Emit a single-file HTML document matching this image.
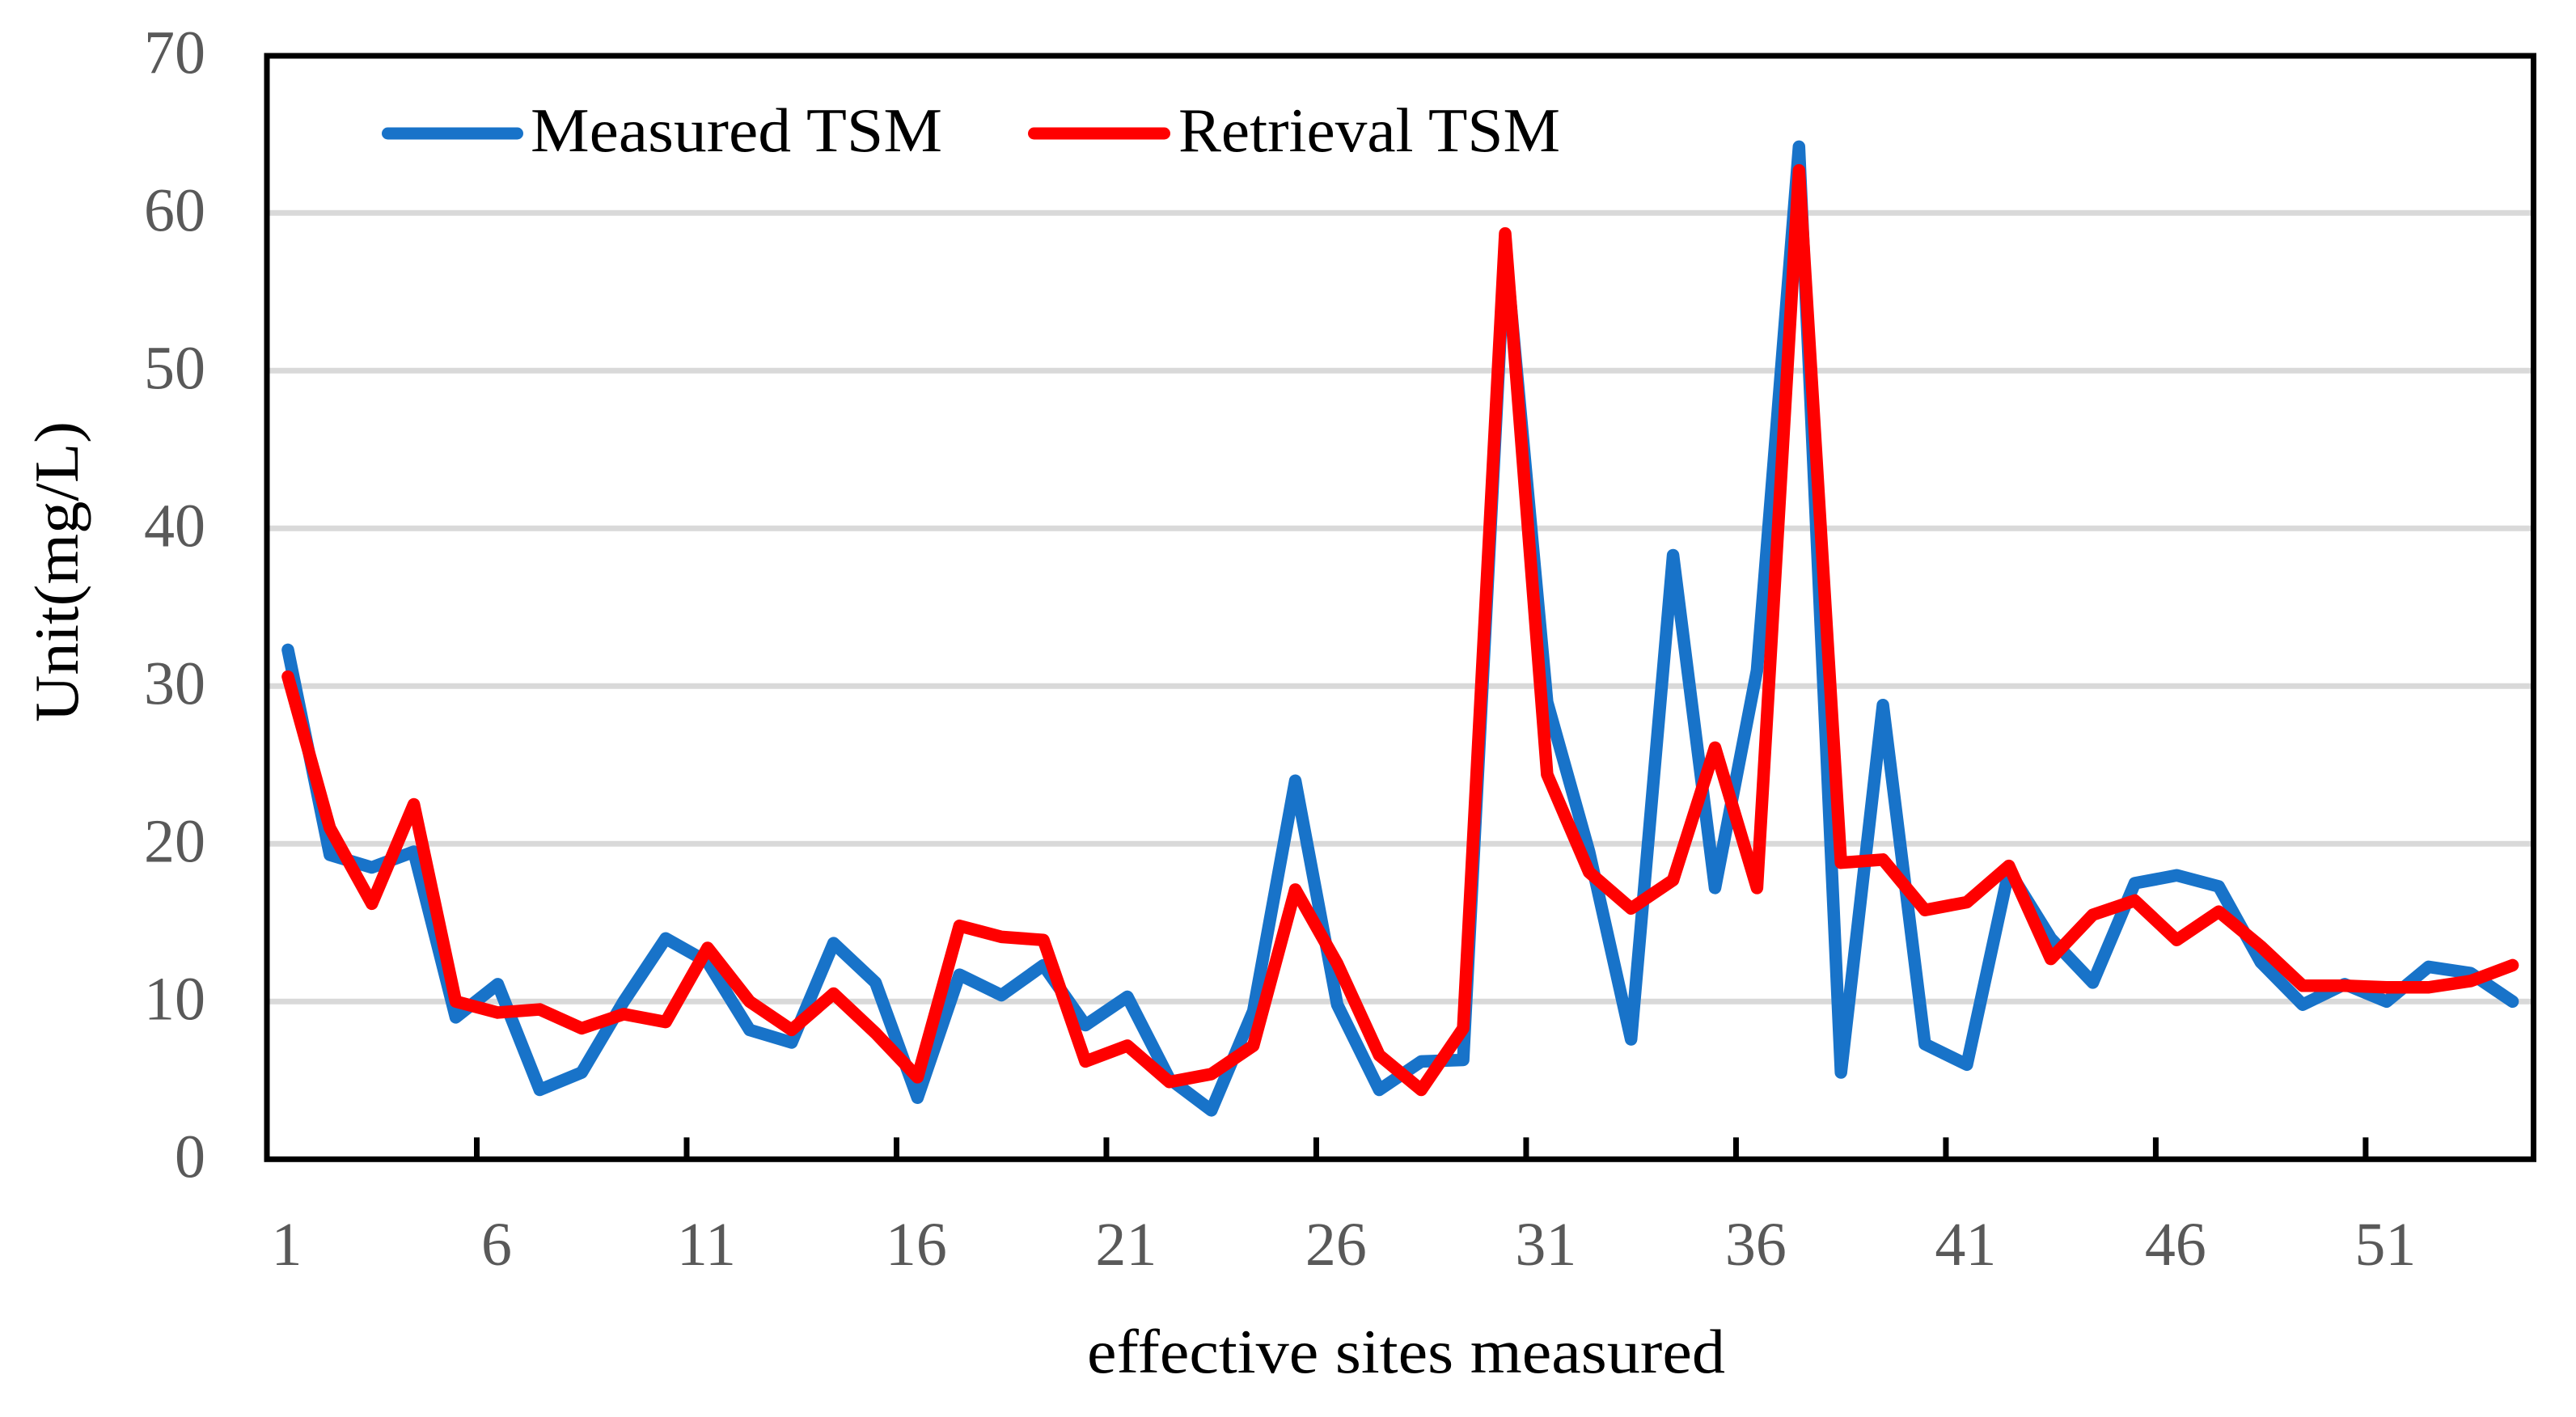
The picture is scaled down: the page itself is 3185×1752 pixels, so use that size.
<!DOCTYPE html>
<html lang="en">
<head>
<meta charset="utf-8">
<title>Measured vs Retrieval TSM</title>
<style>
  html, body { margin: 0; padding: 0; background: #fff; }
  svg { display: block; font-family: "Liberation Serif", serif; }
</style>
</head>
<body>
<svg id="chart" xmlns="http://www.w3.org/2000/svg" width="3185" height="1752" viewBox="0 0 3185 1752">
  <rect x="0" y="0" width="3185" height="1752" fill="#ffffff"/>
  <g id="grid"></g>
  <g id="series"></g>
  <rect x="330" y="69" width="2802.5" height="1364.3" fill="none" stroke="#000000" stroke-width="7"/>
  <g id="ticks"></g>
  <g id="y-labels"></g>
  <g id="x-labels"></g>
  <text x="1344" y="1697" font-size="77" fill="#000000" textLength="789" lengthAdjust="spacingAndGlyphs">effective sites measured</text>
  <text transform="translate(96,893) rotate(-90)" x="0" y="0" font-size="77" fill="#000000" textLength="372" lengthAdjust="spacingAndGlyphs">Unit(mg/L)</text>
  <g>
    <line x1="479.5" y1="165" x2="639.5" y2="165" stroke="#1873C9" stroke-width="15" stroke-linecap="round"/>
    <text x="656" y="187" font-size="77" fill="#000000" textLength="509" lengthAdjust="spacingAndGlyphs">Measured TSM</text>
    <line x1="1278.5" y1="165" x2="1439.5" y2="165" stroke="#FF0000" stroke-width="15" stroke-linecap="round"/>
    <text x="1457" y="187" font-size="77" fill="#000000" textLength="472" lengthAdjust="spacingAndGlyphs">Retrieval TSM</text>
  </g>
</svg>
<script>
const siteCount = 54;
const yTickValues = [0, 10, 20, 30, 40, 50, 60, 70];
const xTickLabels = [1, 6, 11, 16, 21, 26, 31, 36, 41, 46, 51];
const measuredTSM = [32.3, 19.3, 18.5, 19.5, 9.0, 11.1, 4.4, 5.5, 10.0, 14.0, 12.5, 8.2, 7.4, 13.7, 11.2, 3.9, 11.7, 10.4, 12.3, 8.5, 10.3, 5.1, 3.1, 9.4, 24.0, 9.8, 4.4, 6.2, 6.3, 58.0, 29.0, 19.5, 7.6, 38.3, 17.2, 31.0, 64.2, 5.5, 28.8, 7.3, 6.0, 18.3, 14.0, 11.2, 17.5, 18.0, 17.3, 12.5, 9.8, 11.1, 10.0, 12.2, 11.8, 10.0];
const retrievalTSM = [30.6, 21.0, 16.2, 22.5, 10.0, 9.3, 9.5, 8.3, 9.2, 8.7, 13.4, 10.0, 8.2, 10.5, 8.0, 5.2, 14.8, 14.1, 13.9, 6.2, 7.2, 4.9, 5.4, 7.2, 17.1, 12.4, 6.6, 4.4, 8.3, 58.7, 24.4, 18.2, 15.9, 17.7, 26.1, 17.2, 62.7, 18.8, 19.0, 15.8, 16.3, 18.6, 12.7, 15.5, 16.4, 13.9, 15.7, 13.5, 11.0, 11.0, 10.9, 10.9, 11.3, 12.3];

const NS = 'http://www.w3.org/2000/svg';
const plotLeft = 330, plotRight = 3132.5, plotBottom = 1433.3, unitsPerPixel = 19.5;
const catWidth = (plotRight - plotLeft) / siteCount;
function xCenter(site) { return plotLeft + (site - 0.5) * catWidth; }
function xEdge(site) { return plotLeft + (site - 1) * catWidth; }
function yPos(value) { return plotBottom - value * unitsPerPixel; }

const gridGroup = document.getElementById('grid');
const tickGroup = document.getElementById('ticks');
const yLabelGroup = document.getElementById('y-labels');
const xLabelGroup = document.getElementById('x-labels');
const seriesGroup = document.getElementById('series');

yTickValues.forEach(function (v) {
  if (v > 0 && v < 70) {
    const gl = document.createElementNS(NS, 'line');
    
    
    gl.setAttribute('x1', plotLeft);
    gl.setAttribute('x2', plotRight);
    gl.setAttribute('y1', yPos(v));
    gl.setAttribute('y2', yPos(v));
    gl.setAttribute('stroke', '#D9D9D9');
    gl.setAttribute('stroke-width', '7');
    gridGroup.appendChild(gl);
  }
  const t = document.createElementNS(NS, 'text');
  
  
  t.setAttribute('x', 254);
  t.setAttribute('y', yPos(v) + 22.4);
  t.setAttribute('text-anchor', 'end');
  t.setAttribute('font-size', '76');
  t.setAttribute('fill', '#595959');
  t.textContent = v;
  yLabelGroup.appendChild(t);
});

xTickLabels.forEach(function (site) {
  const t = document.createElementNS(NS, 'text');
  
  
  t.setAttribute('x', xCenter(site) - 1.5);
  t.setAttribute('y', 1564);
  t.setAttribute('text-anchor', 'middle');
  t.setAttribute('font-size', '76');
  t.setAttribute('fill', '#595959');
  t.textContent = site;
  xLabelGroup.appendChild(t);
  if (site > 1) {
    const m = document.createElementNS(NS, 'line');
    
    
    m.setAttribute('x1', xEdge(site));
    m.setAttribute('x2', xEdge(site));
    m.setAttribute('y1', plotBottom);
    m.setAttribute('y2', plotBottom - 27);
    m.setAttribute('stroke', '#000000');
    m.setAttribute('stroke-width', '7');
    tickGroup.appendChild(m);
  }
});

function drawSeries(values, color, name) {
  const p = document.createElementNS(NS, 'polyline');
  
  
  p.setAttribute('points', values.map(function (v, i) { return xCenter(i + 1) + ',' + yPos(v); }).join(' '));
  p.setAttribute('fill', 'none');
  p.setAttribute('stroke', color);
  p.setAttribute('stroke-width', '15.5');
  p.setAttribute('stroke-linejoin', 'round');
  p.setAttribute('stroke-linecap', 'round');
  seriesGroup.appendChild(p);
}
drawSeries(measuredTSM, '#1873C9', 'line-measured-tsm');
drawSeries(retrievalTSM, '#FF0000', 'line-retrieval-tsm');
</script>
</body>
</html>
